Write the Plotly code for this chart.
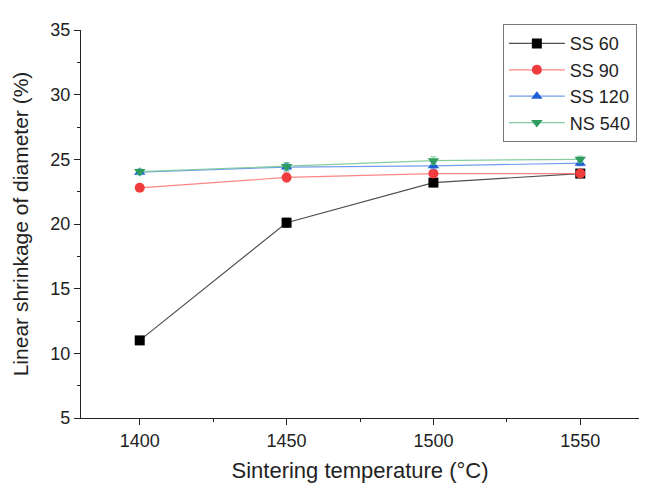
import plotly.graph_objects as go

temps = [1400, 1450, 1500, 1550]
ss60 = [11.0, 20.1, 23.2, 23.9]
ss90 = [22.8, 23.6, 23.9, 23.9]
ss120 = [24.0, 24.4, 24.5, 24.7]
ns540 = [24.05, 24.45, 24.9, 25.0]
err60 = [0.25, 0.35, 0.3, 0.2]
err90 = [0.2, 0.35, 0.3, 0.25]
err120 = [0.2, 0.3, 0.25, 0.2]
err540 = [0.2, 0.3, 0.3, 0.25]

series = [
    ("SS 60", ss60, err60, "#000000", "rgba(60,60,60,0.9)", "square"),
    ("SS 90", ss90, err90, "#f03c3c", "rgba(250,110,110,0.85)", "circle"),
    ("SS 120", ss120, err120, "#1f5fd6", "rgba(90,140,230,0.85)", "triangle-up"),
    ("NS 540", ns540, err540, "#2e9c5e", "rgba(120,200,150,0.9)", "triangle-down"),
]

fig = go.Figure()
for name, ys, er, mc, lc, sym in series:
    fig.add_trace(go.Scatter(
        x=temps, y=ys, name=name, mode="lines+markers",
        line=dict(color=lc, width=1.2),
        marker=dict(symbol=sym, size=10, color=mc, line=dict(width=0)),
        error_y=dict(type="data", array=er, visible=True, color=lc, thickness=1, width=3),
    ))

font = "Liberation Sans, Arial, sans-serif"
fig.update_layout(
    width=661, height=494,
    margin=dict(l=73, r=30, t=18, b=84),
    paper_bgcolor="white", plot_bgcolor="white",
    font=dict(family=font, color="#222222"),
    showlegend=True,
    legend=dict(
        x=0.756, y=1.015, xanchor="left", yanchor="top",
        bordercolor="#777777", borderwidth=1, bgcolor="white",
        font=dict(size=18, family=font, color="#222222"),
        tracegroupgap=0, itemwidth=56,
    ),
    xaxis=dict(
        range=[1380, 1570], tick0=1400, dtick=50,
        showgrid=False, zeroline=False, showline=True, linecolor="#222222", linewidth=1.2,
        ticks="outside", ticklen=6, tickcolor="#222222", tickfont=dict(size=18),
        minor=dict(ticks="outside", ticklen=3, dtick=25, tick0=1400, tickcolor="#222222", showgrid=False),
        title=dict(text="Sintering temperature (°C)", font=dict(size=22), standoff=12),
    ),
    yaxis=dict(
        range=[5, 35], tick0=5, dtick=5,
        showgrid=False, zeroline=False, showline=True, linecolor="#222222", linewidth=1.2,
        ticks="outside", ticklen=6, tickcolor="#222222", tickfont=dict(size=18),
        minor=dict(ticks="outside", ticklen=3, dtick=2.5, tick0=5, tickcolor="#222222", showgrid=False),
        title=dict(text="Linear shrinkage of diameter (%)", font=dict(size=21), standoff=15),
    ),
)

fig.write_html("out.html")
